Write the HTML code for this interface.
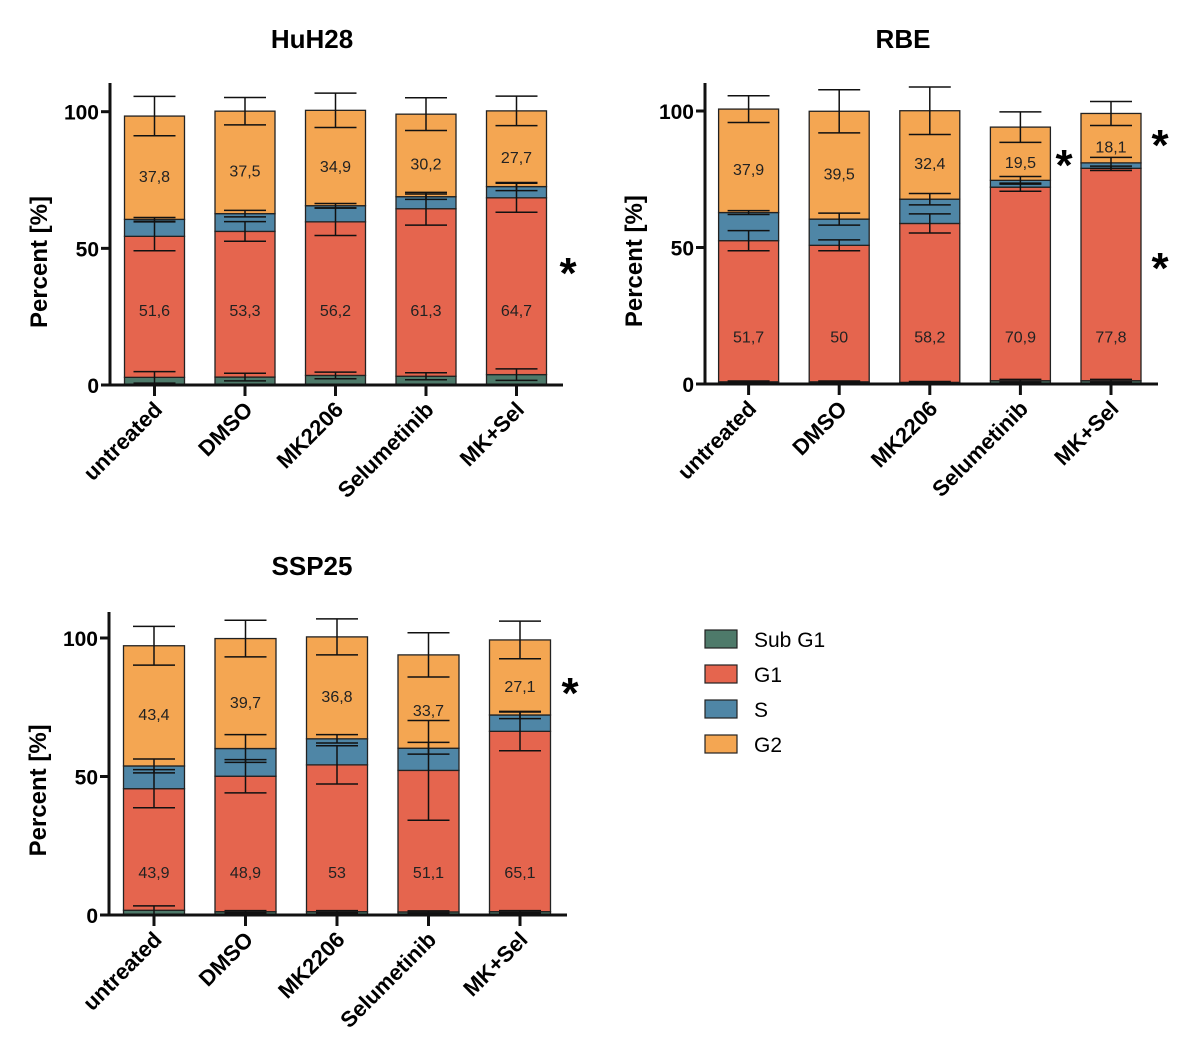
<!DOCTYPE html>
<html><head><meta charset="utf-8"><style>
html,body{margin:0;padding:0;background:#fff;}
svg{display:block;font-family:"Liberation Sans",Arial,sans-serif;}
</style></head><body>
<svg id="fig" width="1200" height="1063" viewBox="0 0 1200 1063" xmlns="http://www.w3.org/2000/svg">
<g>
<rect x="705" y="630" width="32" height="18" fill="#4E7A6A" stroke="#222" stroke-width="1.2"/>
<text x="754" y="647" font-size="21">Sub G1</text>
<rect x="705" y="665" width="32" height="18" fill="#E5654E" stroke="#222" stroke-width="1.2"/>
<text x="754" y="682" font-size="21">G1</text>
<rect x="705" y="700" width="32" height="18" fill="#4F86A6" stroke="#222" stroke-width="1.2"/>
<text x="754" y="717" font-size="21">S</text>
<rect x="705" y="735" width="32" height="18" fill="#F4A652" stroke="#222" stroke-width="1.2"/>
<text x="754" y="752" font-size="21">G2</text>
</g>
</svg>
<script>
const categories = ["untreated","DMSO","MK2206","Selumetinib","MK+Sel"];
const tickValues = [0,50,100];
// HuH28
const huh28SubG1 = [2.8,2.9,3.5,3.2,3.8];
const huh28G1 = [51.6,53.3,56.2,61.3,64.7];
const huh28S = [6.2,6.5,5.9,4.4,4.1];
const huh28G2 = [37.8,37.5,34.9,30.2,27.7];
const huh28SdSubG1 = [2.1,1.4,1.2,1.3,2.1];
const huh28SdG1 = [5.3,3.6,5.0,6.0,5.3];
const huh28SdS = [0.7,1.2,0.8,1.0,1.5];
const huh28SdG2 = [7.2,5.0,6.3,6.0,5.4];
// RBE
const rbeSubG1 = [0.8,0.8,0.6,1.2,1.2];
const rbeG1 = [51.7,50,58.2,70.9,77.8];
const rbeS = [10.3,9.6,8.9,2.5,2.0];
const rbeG2 = [37.9,39.5,32.4,19.5,18.1];
const rbeSdSubG1 = [0.3,0.3,0.3,0.5,0.5];
const rbeSdG1 = [3.7,2.0,3.5,1.5,0.8];
const rbeSdS = [0.7,2.2,2.1,1.4,2.0];
const rbeSdG2 = [4.9,7.9,8.7,5.6,4.4];
// SSP25
const sspSubG1 = [1.7,1.2,1.2,1.1,1.2];
const sspG1 = [43.9,48.9,53,51.1,65.1];
const sspS = [8.2,10.0,9.4,8.0,5.9];
const sspG2 = [43.4,39.7,36.8,33.7,27.1];
const sspSdSubG1 = [1.6,0.4,0.4,0.4,0.4];
const sspSdG1 = [6.9,6.0,6.9,18.0,7.0];
const sspSdS = [2.5,5.0,1.5,2.1,1.3];
const sspSdG2 = [7.0,6.6,6.5,8.0,6.8];

const NS="http://www.w3.org/2000/svg";
const svg=document.getElementById('fig');
const colors=["#4E7A6A","#E5654E","#4F86A6","#F4A652"];
const segNames=["subg1","g1","s","g2"];
function mk(tag,attrs,parent){const e=document.createElementNS(NS,tag);for(const k in attrs)e.setAttribute(k,attrs[k]);(parent||svg).appendChild(e);return e;}

function chart(cfg){
  const g=mk('g',{});
  
  
  const y=v=>cfg.y0-(cfg.y0-cfg.y100)*v/100;
  const x=i=>cfg.c0+cfg.step*i;
  const t=mk('text',{x:cfg.titleX,y:cfg.titleY,'font-size':26,'font-weight':'bold','text-anchor':'middle'},g);
  t.textContent=cfg.title;
  
  
  const yt=mk('text',{x:0,y:0,'font-size':24,'font-weight':'bold','text-anchor':'middle',transform:`translate(${cfg.ax-63},${y(45)}) rotate(-90)`},g);
  yt.textContent="Percent [%]";
  
  
  const segs=[cfg.sub,cfg.g1,cfg.s,cfg.g2], sds=[cfg.sdSub,cfg.sdG1,cfg.sdS,cfg.sdG2];
  const w=cfg.bw;
  const errs=[];
  categories.forEach((c,i)=>{
    let cum=0;
    segs.forEach((arr,k)=>{
      const top=cum+arr[i];
      const r=mk('rect',{x:x(i)-w/2,y:y(top),width:w,height:y(cum)-y(top),fill:colors[k],stroke:'#222','stroke-width':1.3},g);
      
      
      errs.push([i,top,sds[k][i]]);
      cum=top;
    });
    const l1=mk('text',{x:x(i),y:y(cfg.g1Lab)+6,'font-size':16,'text-anchor':'middle',fill:'#222'},g);
    l1.textContent=String(cfg.g1[i]).replace('.',',');
    
    
    const gtop=cfg.sub[i]+cfg.g1[i]+cfg.s[i];
    const l2=mk('text',{x:x(i),y:y(gtop+cfg.g2[i]/2-3)+6,'font-size':16,'text-anchor':'middle',fill:'#222'},g);
    l2.textContent=String(cfg.g2[i]).replace('.',',');
    
    
    const tk=mk('line',{x1:x(i),x2:x(i),y1:cfg.y0,y2:cfg.y0+11,stroke:'#111','stroke-width':3},g);
    
    
    const xl=mk('text',{x:0,y:0,'font-size':22,'font-weight':'bold','text-anchor':'end',transform:`translate(${x(i)+9},${cfg.y0+26}) rotate(-45)`},g);
    xl.textContent=c;
    
    
  });
  errs.forEach(([i,top,sd])=>{
    const lo=Math.max(0,top-sd),hi=top+sd,cx=x(i),hw=21;
    const e=mk('path',{d:`M${cx},${y(lo)}V${y(hi)}M${cx-hw},${y(hi)}H${cx+hw}M${cx-hw},${y(lo)}H${cx+hw}`,stroke:'#111','stroke-width':1.5,fill:'none'},g);
    
    
  });
  const ya=mk('line',{x1:cfg.ax,x2:cfg.ax,y1:cfg.axTop,y2:cfg.y0+1.5,stroke:'#111','stroke-width':3},g);
  
  
  const xa=mk('line',{x1:cfg.ax-1.5,x2:cfg.axEnd,y1:cfg.y0,y2:cfg.y0,stroke:'#111','stroke-width':3},g);
  
  
  tickValues.forEach(v=>{
    const tl=mk('line',{x1:cfg.ax-9,x2:cfg.ax,y1:y(v),y2:y(v),stroke:'#111','stroke-width':3},g);
    
    
    const tx=mk('text',{x:cfg.ax-11,y:y(v)+8,'font-size':21,'font-weight':'bold','text-anchor':'end'},g);
    tx.textContent=v;
    
    
  });
  cfg.stars.forEach(s=>{
    const st=mk('text',{x:s[0],y:s[1]+20,'font-size':44,'font-weight':'bold','text-anchor':'middle'},g);
    st.textContent="*";
    
    
  });
}
chart({name:'huh28',title:'HuH28',titleX:312,titleY:48,ax:110,axTop:83,axEnd:563,y0:385,y100:111.7,c0:154.5,step:90.5,bw:60,g1Lab:27.5,
  sub:huh28SubG1,g1:huh28G1,s:huh28S,g2:huh28G2,sdSub:huh28SdSubG1,sdG1:huh28SdG1,sdS:huh28SdS,sdG2:huh28SdG2,stars:[[568,268]]});
chart({name:'rbe',title:'RBE',titleX:903,titleY:48,ax:705,axTop:83,axEnd:1158,y0:384,y100:111,c0:748.6,step:90.6,bw:60,g1Lab:17.4,
  sub:rbeSubG1,g1:rbeG1,s:rbeS,g2:rbeG2,sdSub:rbeSdSubG1,sdG1:rbeSdG1,sdS:rbeSdS,sdG2:rbeSdG2,stars:[[1064,160],[1160,140],[1160,263]]});
chart({name:'ssp25',title:'SSP25',titleX:312,titleY:575,ax:109,axTop:612,axEnd:567,y0:915,y100:638,c0:154,step:91.5,bw:61,g1Lab:15.5,
  sub:sspSubG1,g1:sspG1,s:sspS,g2:sspG2,sdSub:sspSdSubG1,sdG1:sspSdG1,sdS:sspSdS,sdG2:sspSdG2,stars:[[570,688]]});
</script>
</body></html>
